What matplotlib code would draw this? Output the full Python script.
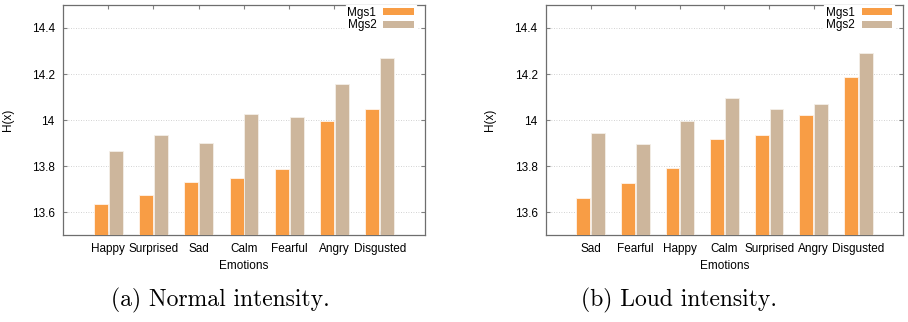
import numpy as np
import matplotlib.pyplot as plt
from matplotlib.patches import Patch

# data
normal_labels = ["Happy", "Surprised", "Sad", "Calm", "Fearful", "Angry", "Disgusted"]
normal_mgs1 = [13.633, 13.674, 13.732, 13.748, 13.788, 13.996, 14.046]
normal_mgs2 = [13.865, 13.937, 13.898, 14.028, 14.012, 14.156, 14.270]

loud_labels = ["Sad", "Fearful", "Happy", "Calm", "Surprised", "Angry", "Disgusted"]
loud_mgs1 = [13.661, 13.726, 13.790, 13.918, 13.936, 14.020, 14.187]
loud_mgs2 = [13.944, 13.897, 13.995, 14.096, 14.048, 14.068, 14.291]

series_names = ["Mgs1", "Mgs2"]
colors = ["#F89D45", "#CDB69C"]
yticks = [13.6, 13.8, 14.0, 14.2, 14.4]
ytick_labels = ["13.6", "13.8", "14", "14.2", "14.4"]

plt.rcParams["font.family"] = ["Liberation Sans", "DejaVu Sans"]

fig = plt.figure(figsize=(9.08, 3.22), dpi=100)
ax1 = fig.add_axes([0.0694, 0.270, 0.3986, 0.7145])
ax2 = fig.add_axes([0.6013, 0.270, 0.3932, 0.7145])


def draw(ax, labels, s1, s2):
    x = np.arange(len(labels))
    w = 0.31
    ax.bar(x - 0.165, s1, width=w, bottom=0, color=colors[0],
           edgecolor="#fff4ea", linewidth=0.6, zorder=3)
    ax.bar(x + 0.165, s2, width=w, bottom=0, color=colors[1],
           edgecolor="#f4efe8", linewidth=0.6, zorder=3)
    ax.set_xlim(-1.0, len(labels))
    ax.set_ylim(13.5, 14.5)
    ax.set_xticks(x)
    ax.set_xticklabels(labels, fontsize=8.5)
    ax.set_yticks(yticks)
    ax.set_yticklabels(ytick_labels, fontsize=8.5)
    ax.tick_params(direction="in", length=3, color="#808080", top=True, right=True, pad=6)
    ax.yaxis.grid(True, linestyle=(0, (1, 2)), color="#c4c4c4", linewidth=0.6)
    ax.set_axisbelow(True)
    for sp in ax.spines.values():
        sp.set_color("#6e6e6e")
        sp.set_linewidth(0.9)
    ax.set_xlabel("Emotions", fontsize=8.5, labelpad=3)
    ax.set_ylabel("H(x)", fontsize=8.5, labelpad=13)
    handles = [Patch(facecolor=c, edgecolor="none") for c in colors]
    leg = ax.legend(handles, series_names, loc="upper right",
                    bbox_to_anchor=(0.975, 1.0), markerfirst=False,
                    fontsize=8.5, handlelength=2.6, handleheight=0.55,
                    handletextpad=0.6, labelspacing=0.05, borderpad=0.15,
                    borderaxespad=0.0, framealpha=1, edgecolor="white",
                    fancybox=False)
    leg.set_zorder(5)
    for t in leg.get_texts():
        t.set_ha("right")


draw(ax1, normal_labels, normal_mgs1, normal_mgs2)
draw(ax2, loud_labels, loud_mgs1, loud_mgs2)

fig.text(0.243, 0.066, "(a) Normal intensity.", ha="center", va="center",
         fontsize=17, family=["cmr10", "DejaVu Serif"])
fig.text(0.748, 0.066, "(b) Loud intensity.", ha="center", va="center",
         fontsize=17, family=["cmr10", "DejaVu Serif"])

fig.savefig("out.png", dpi=100)
